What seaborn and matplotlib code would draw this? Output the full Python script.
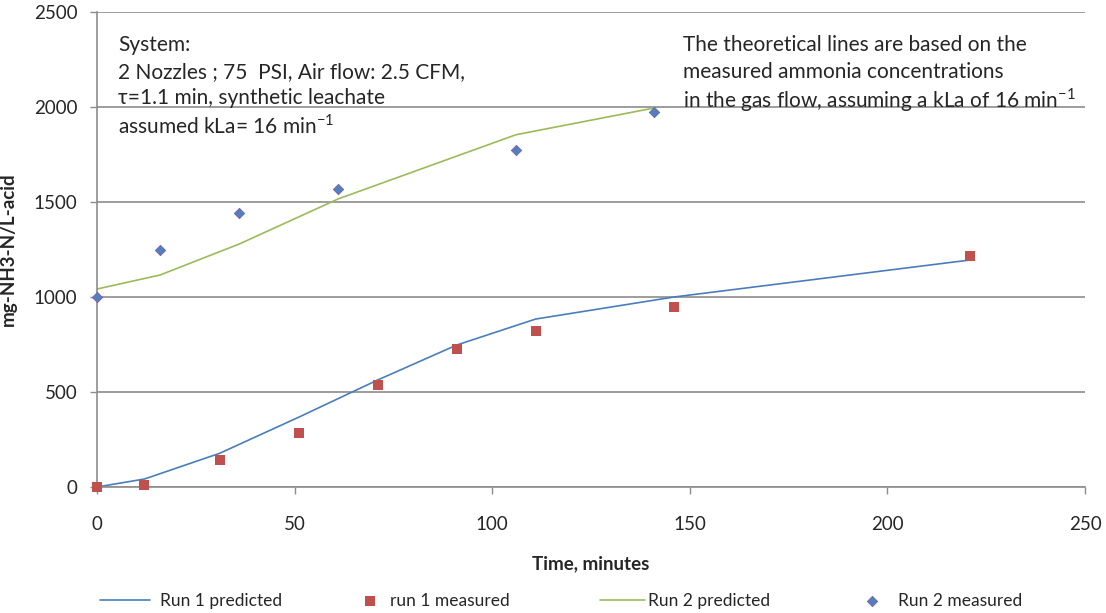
import matplotlib
matplotlib.use("Agg")
import matplotlib.pyplot as plt
import seaborn as sns
import pandas as pd

# Data
run1_x = [0, 12, 31, 51, 71, 91, 111, 146, 221]
run1_pred = [0, 42, 177, 367, 563, 747, 884, 1000, 1195]
run1_meas = [0, 10, 140, 285, 535, 725, 820, 950, 1215]
run2_x = [0, 16, 36, 61, 106, 141]
run2_pred = [1042, 1116, 1279, 1516, 1854, 1995]
run2_meas = [1000, 1250, 1440, 1570, 1775, 1975]
x_ticks = [0, 50, 100, 150, 200, 250]
y_ticks = [0, 500, 1000, 1500, 2000, 2500]
labels = ["Run 1 predicted", "run 1 measured", "Run 2 predicted", "Run 2 measured"]

sns.set_theme(style="white")
plt.rcParams['font.family'] = ['Lato', 'DejaVu Sans']
plt.rcParams['mathtext.fontset'] = 'custom'
plt.rcParams['mathtext.rm'] = 'Lato'

W, H = 1106, 613
fig = plt.figure(figsize=(W / 100, H / 100), dpi=100)
ax = fig.add_axes([97 / W, 1 - 487 / H, (1085 - 97) / W, (487 - 12) / H])

df1 = pd.DataFrame({"t": run1_x, "pred": run1_pred, "meas": run1_meas})
df2 = pd.DataFrame({"t": run2_x, "pred": run2_pred, "meas": run2_meas})

blue = "#4A7EBB"
red = "#C0504D"
green = "#9BBB59"
dblue = "#4F81BD"

sns.lineplot(data=df1, x="t", y="pred", ax=ax, color=blue, lw=1.2, label=labels[0])
sns.scatterplot(data=df1, x="t", y="meas", ax=ax, color=red, marker="s", s=50,
                edgecolor=red, linewidth=0, label=labels[1], zorder=3, clip_on=False)
sns.lineplot(data=df2, x="t", y="pred", ax=ax, color=green, lw=1.2, label=labels[2])
sns.scatterplot(data=df2, x="t", y="meas", ax=ax, color=dblue, marker="D", s=28,
                edgecolor="#7F5FA8", linewidth=0.6, label=labels[3], zorder=3, clip_on=False)

ax.set_xlim(0, 250)
ax.set_ylim(0, 2500)
ax.set_xticks(x_ticks)
ax.set_yticks(y_ticks)
ax.grid(axis="y", color="#8C8C8C", lw=1.2)
ax.grid(axis="x", visible=False)
ax.set_axisbelow(True)
for s in ["top", "right"]:
    ax.spines[s].set_visible(False)
for s in ["left", "bottom"]:
    ax.spines[s].set_color("#8C8C8C")
    ax.spines[s].set_linewidth(1.2)
ax.tick_params(axis="both", which="both", direction="out", length=5, width=1,
               color="#8C8C8C", labelsize=13.5, left=True, bottom=True)
ax.tick_params(axis="x", pad=16)
ax.tick_params(axis="y", pad=9)
ax.set_xlabel("Time, minutes", fontsize=13.5, fontweight="bold", labelpad=16)
ax.set_ylabel("mg-NH3-N/L-acid", fontsize=13.5, fontweight="bold", labelpad=12)

ax.get_legend().remove()
h, l = ax.get_legend_handles_labels()
fs = 12.5
em = fs * 100 / 72  # px per em
# (handle start px, handle length px, text pad px)
specs = [(100, 50, 10), (360, 20, 10), (600, 45, 3), (862, 20, 16)]
for hdl, lab, (x0, hl, tp) in zip(h, l, specs):
    fig.legend([hdl], [lab], loc="center left", bbox_to_anchor=(x0 / W, 1 - 601 / H),
               frameon=False, fontsize=fs, borderpad=0, borderaxespad=0,
               handlelength=hl / em, handletextpad=tp / em)

lines1 = ["System:", "2 Nozzles ; 75  PSI, Air flow: 2.5 CFM,",
          "\u03c4=1.1 min, synthetic leachate",
          "assumed kLa= 16 min$^{\\mathregular{-1}}$"]
for i, t in enumerate(lines1):
    fig.text(118 / W, 1 - (43 + 26.7 * i) / H, t, fontsize=15, va="center_baseline", ha="left")
lines2 = ["The theoretical lines are based on the", "measured ammonia concentrations",
          "in the gas flow, assuming a kLa of 16 min$^{\\mathregular{-1}}$"]
for i, t in enumerate(lines2):
    fig.text(683 / W, 1 - (43 + 26.7 * i) / H, t, fontsize=15, va="center_baseline", ha="left")

fig.savefig("out.png", dpi=100)
